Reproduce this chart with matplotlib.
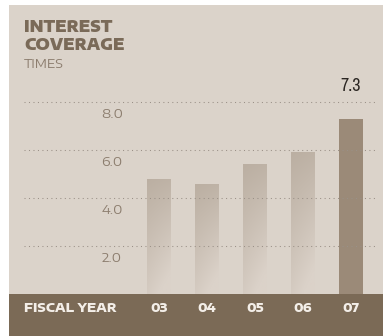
import numpy as np
import matplotlib
matplotlib.use("Agg")
import matplotlib.pyplot as plt
from matplotlib.patches import Rectangle
from matplotlib.colors import to_rgb

# Interest coverage (times) by fiscal year
years = ["03", "04", "05", "06", "07"]
coverage = [4.8, 4.6, 5.4, 5.9, 7.3]
grid_values = [2.0, 4.0, 6.0, 8.0]
grid_labels = ["2.0", "4.0", "6.0", "8.0"]
highlight_label = "7.3"

W, H, DPI = 383, 336, 100
PANEL = "#dbd3ca"
BAND = "#7b6a56"
TITLE = "#7a6a58"
TICK = "#8c7d6e"
HILITE = "#9b8a78"
LIGHT = "#f3eee8"
WIDE = ["Encode Sans Expanded", "DejaVu Sans"]
NARROW = ["Archivo Narrow", "DejaVu Sans"]

fig = plt.figure(figsize=(W / DPI, H / DPI), dpi=DPI, facecolor="white")

def fx(px):
    return px / W

def fy(py):
    return 1 - py / H

# plot area: left 9px, right edge, top 5px, baseline 294px
ax = fig.add_axes([fx(9), fy(294), fx(374), 289 / H])
ax.set_facecolor(PANEL)
for s in ax.spines.values():
    s.set_visible(False)
ax.set_xticks([])
ax.set_yticks([])

x = np.arange(len(years))
bw = 0.5
bars = ax.bar(x, coverage, width=bw, color="none", edgecolor="none", zorder=2)

# gradient fill for earlier years
top_c = np.array(to_rgb("#bbafa2"))
bot_c = np.array(to_rgb("#dbd2c9"))
ny, nx = 100, 30
ty = np.linspace(0, 1, ny)[:, None]
tx = np.linspace(0, 1, nx)[None, :]
t = np.clip(0.8 * ty + 0.3 * tx * ty + 0.1 * tx, 0, 1)
grad = top_c[None, None, :] * (1 - t[..., None]) + bot_c[None, None, :] * t[..., None]

for i, (b, v) in enumerate(zip(bars, coverage)):
    x0 = b.get_x()
    if i == len(coverage) - 1:
        ax.add_patch(Rectangle((x0, 0), bw, v, facecolor=HILITE, edgecolor="none", zorder=2))
    else:
        im = ax.imshow(grad, extent=(x0, x0 + bw, 0, v), origin="upper",
                       aspect="auto", zorder=2, interpolation="bilinear")
        im.set_clip_path(b)
ax.set_xlim((9 - 159) / 48, (383 - 159) / 48)
ax.set_ylim(0, 289 / 24)

# dotted gridlines over the bars
ax.hlines(grid_values, (24 - 159) / 48, (377 - 159) / 48, colors="#9a9087",
          linewidth=0.75, linestyles=[(0, (1, 3.3))], zorder=3)

for v, lab in zip(grid_values, grid_labels):
    ax.text((112 - 159) / 48, v - 0.52, lab, ha="center", va="center",
            fontsize=9.5, color=TICK, family=WIDE, zorder=4)

# value label above the latest bar
ax.annotate(highlight_label, (x[-1], coverage[-1]), xytext=(0, 25),
            textcoords="offset pixels", ha="center", va="bottom",
            fontsize=13, color="#2b2622", family=NARROW, zorder=4)

# footer band
fig.add_artist(Rectangle((fx(9), 0), fx(374), 42 / H, transform=fig.transFigure,
                         facecolor=BAND, edgecolor="none", zorder=-1))
fig.text(fx(24), fy(311.7), "FISCAL YEAR", ha="left", va="baseline",
         fontsize=9, fontweight=800, color=LIGHT, family=WIDE, zorder=5)
for xi, yr in zip(x, years):
    ax.text(xi, -(311.7 - 294) / 24, yr, ha="center", va="baseline",
            fontsize=9, fontweight=800, color=LIGHT, family=WIDE,
            clip_on=False, zorder=5)

# heading
fig.text(fx(24), fy(31.7), "INTEREST", ha="left", va="baseline",
         fontsize=11, fontweight=900, color=TITLE, family=WIDE)
fig.text(fx(24), fy(50), "COVERAGE", ha="left", va="baseline",
         fontsize=11, fontweight=900, color=TITLE, family=WIDE)
fig.text(fx(24), fy(68), "TIMES", ha="left", va="baseline",
         fontsize=9, color=TICK, family=WIDE)

fig.savefig("out.png", dpi=DPI, facecolor="white")
